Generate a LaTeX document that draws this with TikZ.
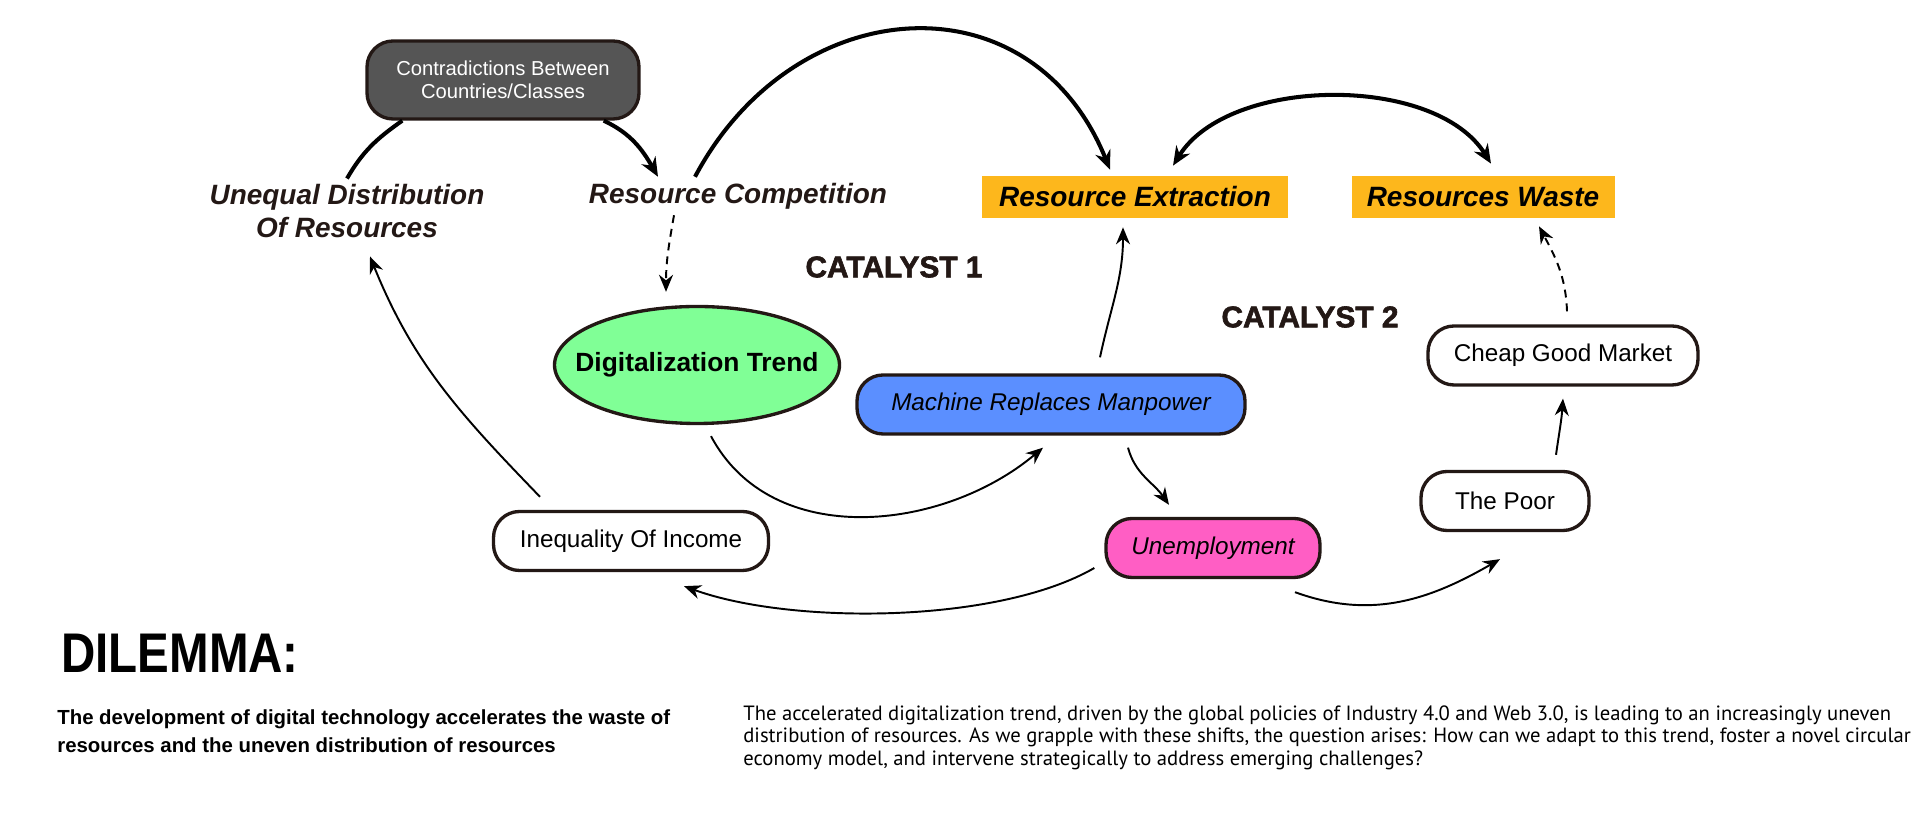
\documentclass[tikz,border=0pt]{standalone}
\usepackage{fontspec}
\setmainfont{Liberation Sans}
\newfontfamily\dinfont{PT Sans}
\newfontfamily\techfont[FakeStretch=0.85]{Liberation Sans}
\newfontfamily\heavyfont[FakeBold=2]{Liberation Sans}
\usetikzlibrary{arrows.meta,shapes.geometric}

\definecolor{ink}{HTML}{231815}
\definecolor{slate}{HTML}{555555}
\definecolor{amber}{HTML}{FDB71C}
\definecolor{mint}{HTML}{80FF96}
\definecolor{azure}{HTML}{5B8FFF}
\definecolor{rose}{HTML}{FF5EC4}

\tikzset{
	pill/.style={draw=ink, line width=1.9pt, rounded corners=0.52cm, minimum height=1.18cm, align=center, font=\fontsize{13.8}{16}\selectfont},
	slanted/.style={font=\fontsize{13.8}{16}\selectfont\itshape},
	tag/.style={fill=amber, text=black, minimum height=0.84cm, font=\fontsize{15.9}{18}\selectfont\bfseries\itshape},
	heading/.style={text=ink, align=center, font=\fontsize{15.9}{18.8}\selectfont\bfseries\itshape},
	catalyst/.style={text=ink, font=\heavyfont\fontsize{17}{19}\selectfont\bfseries},
	heavy/.style={draw=black, line width=2.3pt, -{Stealth[length=0.38cm,width=0.32cm]}},
	twoway/.style={heavy, {Stealth[length=0.38cm,width=0.32cm]}-{Stealth[length=0.38cm,width=0.32cm]}},
	light/.style={draw=black, line width=1.1pt, -{Stealth[length=0.34cm,width=0.28cm]}},
	dotted line/.style={dash pattern=on 4.5pt off 3.4pt}
}

\begin{document}
\begin{tikzpicture}
	\useasboundingbox (0,0) rectangle (38.4,16.26);

	\node[pill, fill=slate, text=white, minimum width=5.44cm, minimum height=1.56cm, font=\fontsize{11.5}{13}\selectfont] (contra) at (10.06,14.66) {Contradictions Between\\Countries/Classes};
	\node[heading] (unequal) at (6.94,12.03) {Unequal Distribution\\Of Resources};
	\node[heading] (compete) at (14.76,12.34) {Resource Competition};
	\node[tag, minimum width=6.12cm] (extract) at (22.70,12.32) {Resource Extraction};
	\node[tag, minimum width=5.26cm] (waste) at (29.66,12.32) {Resources Waste};
	\node[catalyst] (cat1) at (17.88,10.92) {CATALYST 1};
	\node[catalyst] (cat2) at (26.20,9.92) {CATALYST 2};

	\node[ellipse, draw=ink, line width=1.9pt, fill=mint, inner xsep=-0.5cm, minimum width=5.7cm, minimum height=2.34cm, font=\fontsize{15}{18}\selectfont\bfseries] (digit) at (13.94,8.96) {Digitalization Trend};
	\node[pill, slanted, fill=azure, minimum width=7.76cm] (machine) at (21.02,8.17) {Machine Replaces Manpower};
	\node[pill, slanted, fill=rose, minimum width=4.28cm] (unemp) at (24.26,5.30) {Unemployment};
	\node[pill, minimum width=5.5cm] (inequal) at (12.62,5.44) {Inequality Of Income};
	\node[pill, minimum width=3.36cm] (poor) at (30.10,6.24) {The Poor};
	\node[pill, minimum width=5.4cm] (cheap) at (31.26,9.15) {Cheap Good Market};

	\draw[draw=black, line width=2.3pt] (unequal.north) to[out=60,in=215] (contra.202);
	\draw[heavy] (contra.-22) to[out=-25,in=120] ([xshift=-1.6cm]compete.north);
	\draw[heavy] ([xshift=-0.86cm]compete.north) to[out=62,in=112,looseness=1.3] ([xshift=-0.5cm,yshift=0.12cm]extract.north);
	\draw[twoway] ([xshift=0.76cm,yshift=0.2cm]extract.north) to[out=58,in=122,looseness=0.85] ([xshift=0.16cm,yshift=0.24cm]waste.north);

	\draw[light, dotted line] ([xshift=-1.28cm]compete.south) to[out=-100,in=90] ([xshift=-0.62cm,yshift=0.26cm]digit.north);
	\draw[light] ([xshift=0.28cm,yshift=-0.22cm]digit.south) to[out=-62,in=-140] ([xshift=-0.16cm,yshift=-0.24cm]machine.south);
	\draw[light] ([xshift=0.98cm,yshift=0.32cm]machine.north) to[out=78,in=-90] ([xshift=-0.24cm,yshift=-0.18cm]extract.south);
	\draw[light] ([xshift=1.54cm,yshift=-0.24cm]machine.south) to[out=-75,in=125] ([xshift=-0.88cm,yshift=0.24cm]unemp.north);
	\draw[light] ([xshift=-0.2cm,yshift=-0.4cm]unemp.west) to[out=-150,in=-20,looseness=0.7] ([xshift=1.06cm,yshift=-0.28cm]inequal.south);
	\draw[light] ([xshift=-1.82cm,yshift=0.26cm]inequal.north) to[out=134,in=-68] ([xshift=0.46cm,yshift=-0.24cm]unequal.south);
	\draw[light] ([xshift=1.64cm,yshift=-0.26cm]unemp.south) to[out=-20,in=-150] ([xshift=-0.1cm,yshift=-0.54cm]poor.south);
	\draw[light] ([xshift=1.02cm,yshift=0.3cm]poor.north) to[out=82,in=-94] ([yshift=-0.24cm]cheap.south);
	\draw[light, dotted line] ([xshift=0.08cm,yshift=0.26cm]cheap.north) to[out=92,in=-62] ([xshift=1.12cm,yshift=-0.16cm]waste.south);

	\node[anchor=west, inner sep=0, font=\techfont\fontsize{31.8}{34}\selectfont\bfseries] (dilemma) at (1.22,3.20) {DILEMMA:};
	\node[anchor=north west, inner sep=0, align=left, font=\fontsize{11.6}{15.9}\selectfont\bfseries] (summary) at (1.14,2.08) {The development of digital technology accelerates the waste of\\resources and the uneven distribution of resources};
	\node[anchor=north west, inner sep=0, align=left, font=\dinfont\fontsize{11.75}{13}\selectfont] (remark) at (14.86,2.16) {The accelerated digitalization trend, driven by the global policies of Industry 4.0 and Web 3.0, is leading to an increasingly uneven\\distribution of resources. As we grapple with these shifts, the question arises: How can we adapt to this trend, foster a novel circular\\economy model, and intervene strategically to address emerging challenges?};
\end{tikzpicture}
\end{document}
